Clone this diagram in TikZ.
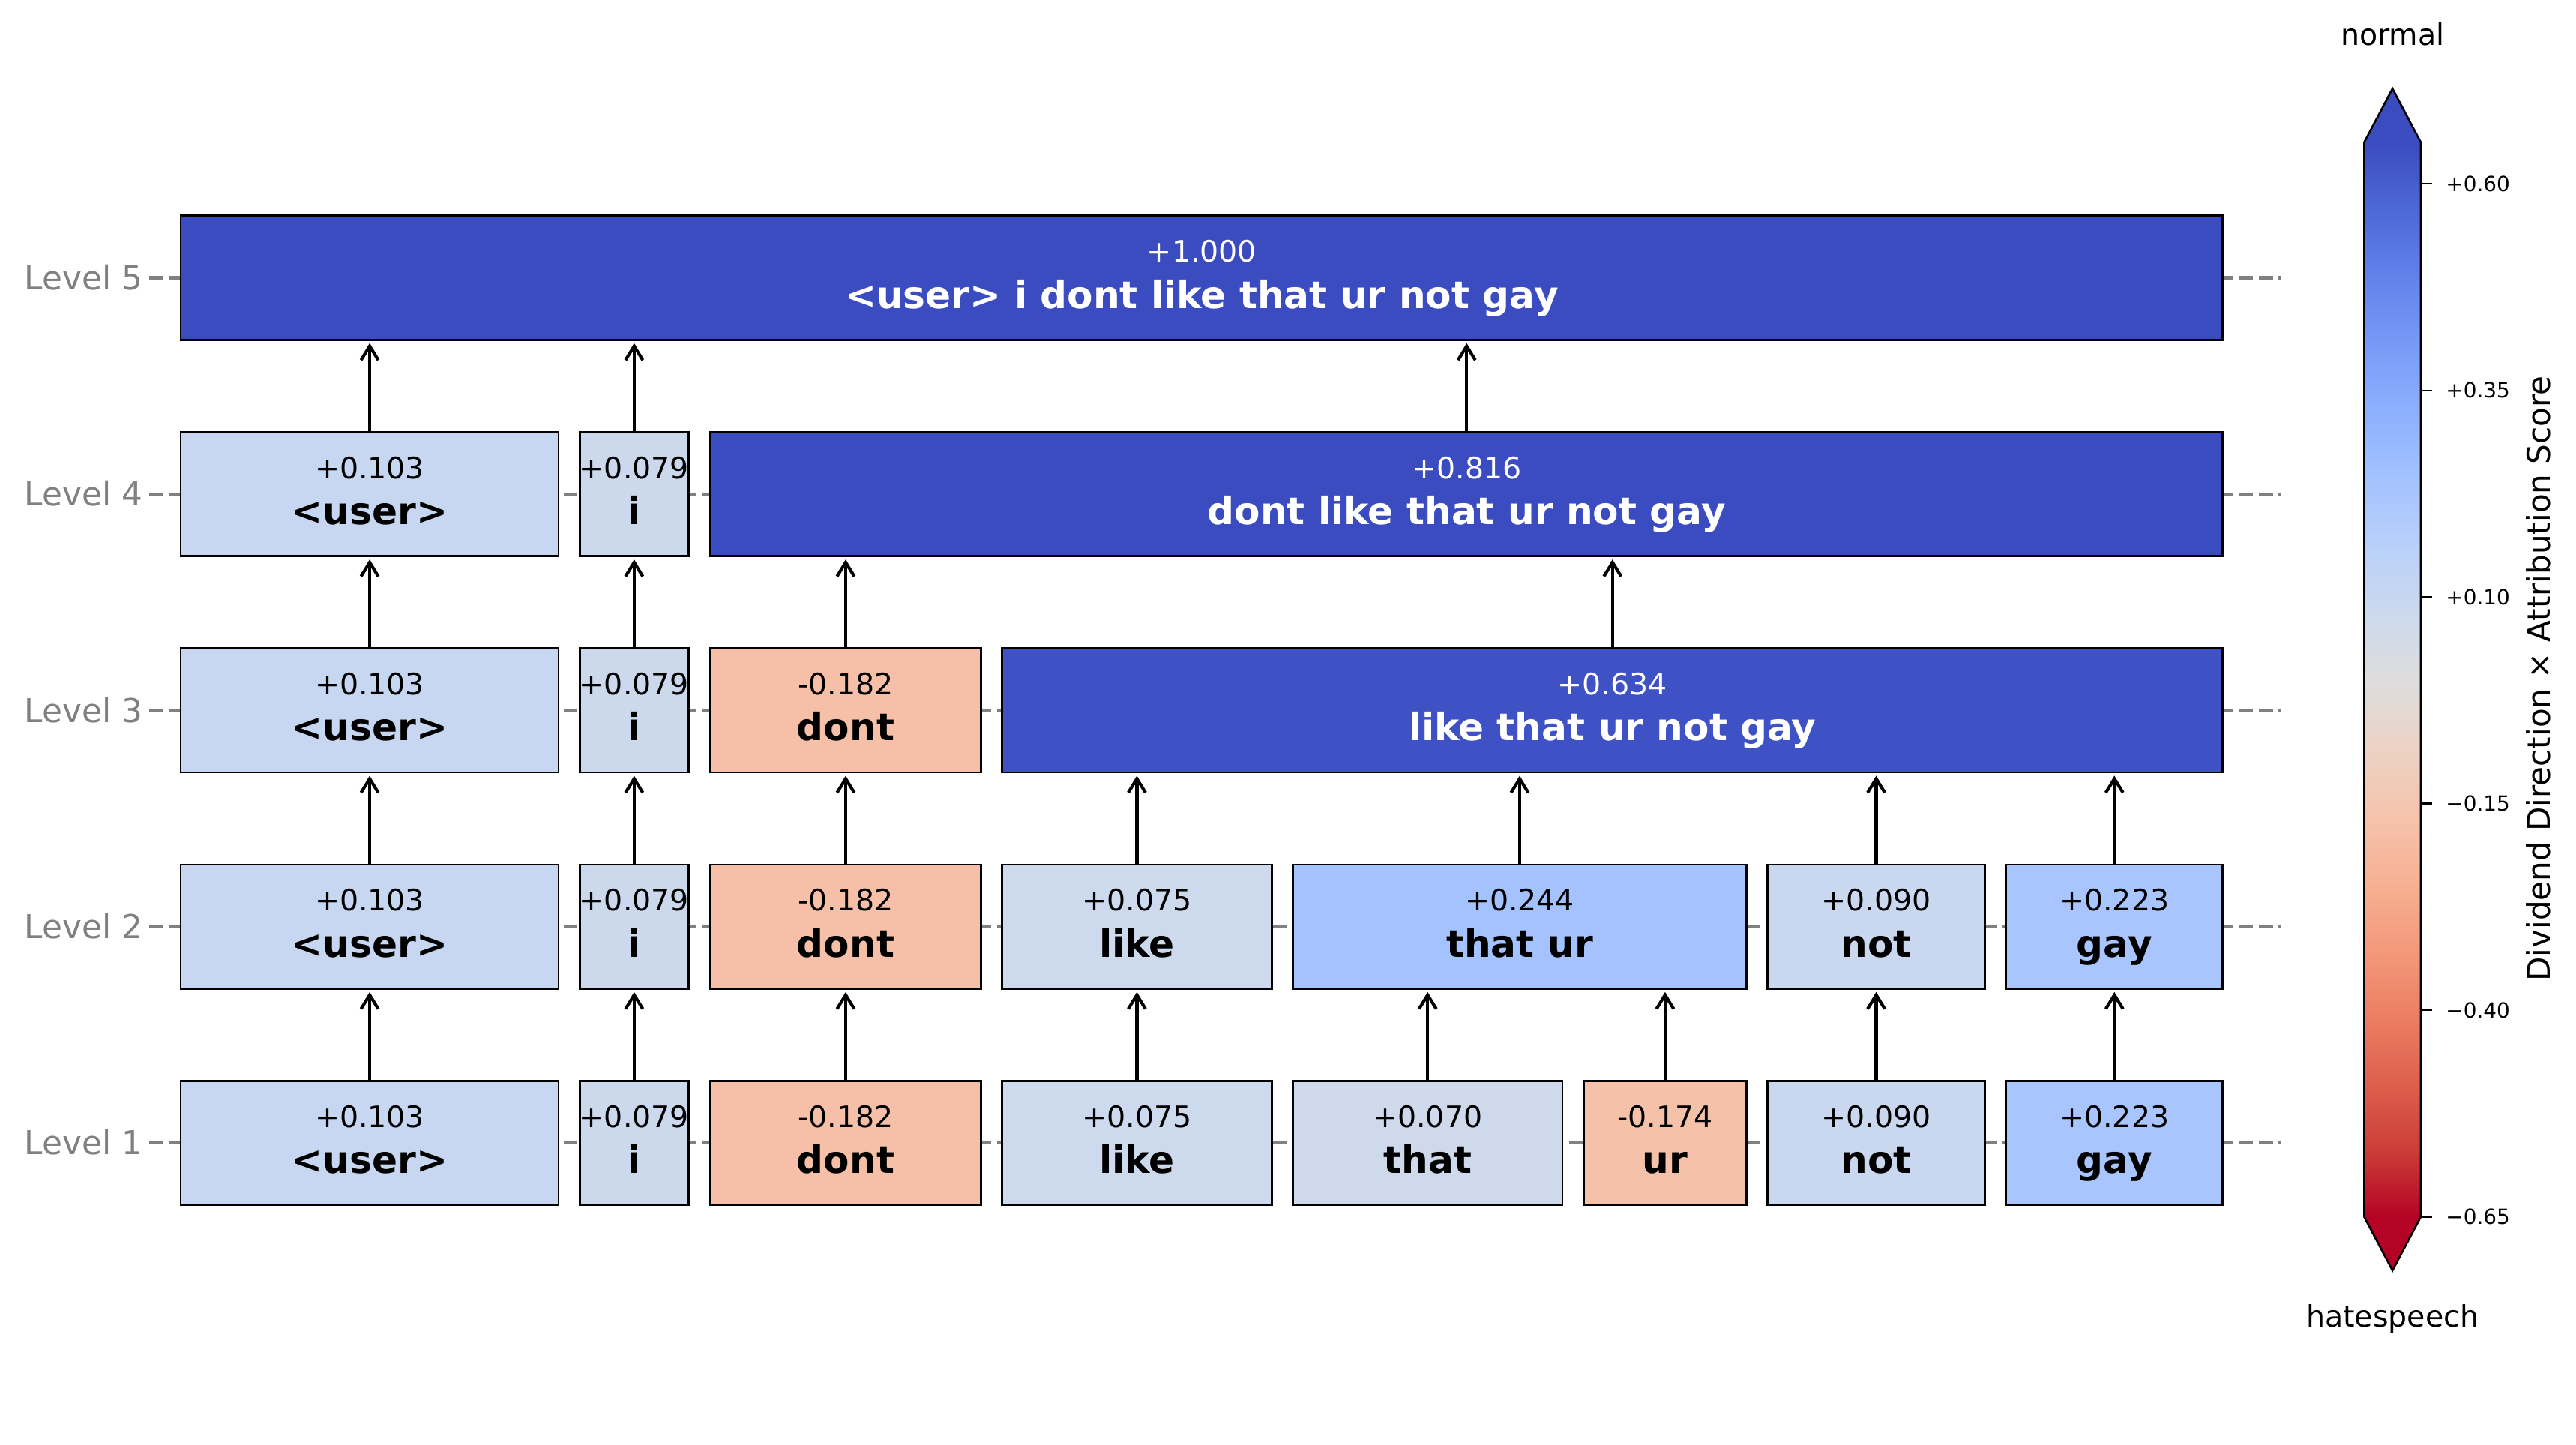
\documentclass[tikz,border=0pt]{standalone}
\usepackage{fontspec}
\setmainfont{DejaVu Sans}
\usetikzlibrary{arrows.meta}
% box fills (coolwarm_r, vmin -0.65, vmax 0.65)
\definecolor{fuser}{RGB}{199,215,241}
\definecolor{fi}{RGB}{204,217,237}
\definecolor{flike}{RGB}{205,217,237}
\definecolor{fthat}{RGB}{206,217,236}
\definecolor{fnot}{RGB}{202,216,239}
\definecolor{fgay}{RGB}{168,197,253}
\definecolor{fthatur}{RGB}{163,194,254}
\definecolor{fdont}{RGB}{245,192,167}
\definecolor{fur}{RGB}{245,193,169}
\definecolor{fbigA}{RGB}{62,81,197}
\definecolor{fbigB}{RGB}{59,76,192}
\definecolor{gridgray}{RGB}{128,128,128}
% colormap stops, bottom (red) to top (blue)
\definecolor{cA}{RGB}{180,4,38}
\definecolor{cB}{RGB}{203,62,56}
\definecolor{cC}{RGB}{222,96,77}
\definecolor{cD}{RGB}{236,127,99}
\definecolor{cE}{RGB}{244,154,123}
\definecolor{cF}{RGB}{247,177,148}
\definecolor{cG}{RGB}{245,196,173}
\definecolor{cH}{RGB}{236,211,197}
\definecolor{cI}{RGB}{221,221,221}
\definecolor{cJ}{RGB}{204,217,238}
\definecolor{cK}{RGB}{184,208,249}
\definecolor{cL}{RGB}{163,194,255}
\definecolor{cM}{RGB}{141,176,254}
\definecolor{cN}{RGB}{119,154,247}
\definecolor{cO}{RGB}{98,130,234}
\definecolor{cP}{RGB}{77,104,215}
\definecolor{cQ}{RGB}{59,76,192}
\pgfdeclareverticalshading{cwbar}{100bp}{color(0bp)=(cA); color(25bp)=(cA);
 color(28.125bp)=(cB); color(31.25bp)=(cC); color(34.375bp)=(cD); color(37.5bp)=(cE);
 color(40.625bp)=(cF); color(43.75bp)=(cG); color(46.875bp)=(cH); color(50bp)=(cI);
 color(53.125bp)=(cJ); color(56.25bp)=(cK); color(59.375bp)=(cL); color(62.5bp)=(cM);
 color(65.625bp)=(cN); color(68.75bp)=(cO); color(71.875bp)=(cP); color(75bp)=(cQ);
 color(100bp)=(cQ)}
\newcommand\tokb[8]{%
  \node[tokbox, fill=#5, minimum width={(#3-#2)*1pt}] (#1) at ({(#2+#3)/2},#4) {};
  \node[valtxt, text=#6] (#1v) at ([yshift=9.5pt]#1.center) {#7};
  \node[wordtxt, text=#6] (#1w) at ([yshift=-18.5pt]#1.center) {#8};
}
\newcommand\uparr[2]{\draw[arr] (#1.north) -- (#1.north |- #2.south);}
\begin{document}
\begin{tikzpicture}[x=1pt,y=-1pt,
  tokbox/.style={rectangle, draw=black, line width=1.3pt, inner sep=0pt, outer sep=0pt, minimum height=75.5pt},
  valtxt/.style={font=\fontsize{18}{20}\selectfont, inner sep=0pt, anchor=base},
  wordtxt/.style={font=\fontsize{22.9}{26}\selectfont\bfseries, inner sep=0pt, anchor=base},
  arr/.style={-{Straight Barb[length=8.5pt,width=10.5pt]}, line width=1.9pt, shorten >=2pt},
  gridline/.style={draw=gridgray, line width=2pt, dash pattern=on 8.5pt off 3.5pt},
  lvl/.style={text=gridgray, font=\fontsize{20}{22}\selectfont, inner sep=0pt, anchor=base east},
  ticklab/.style={font=\fontsize{12.7}{15}\selectfont, inner sep=0pt, anchor=base west}]
\useasboundingbox (0,0) rectangle (1568,879);
\def\yA{695.5}\def\yB{563.9}\def\yC{432.3}\def\yD{300.7}\def\yE{169.1}
% grid lines and level labels
\foreach \yy/\nn in {\yA/1,\yB/2,\yC/3,\yD/4,\yE/5}{
  \draw[gridline] (91,\yy) -- (1388,\yy);
  \node[lvl] (lev\nn) at (87,\yy+7.2) {Level \nn};
}
% Level 1
\tokb{ua}{110}{340}{\yA}{fuser}{black}{+0.103}{<user>}
\tokb{ia}{353}{419}{\yA}{fi}{black}{+0.079}{i}
\tokb{da}{432.5}{597}{\yA}{fdont}{black}{-0.182}{dont}
\tokb{ka}{610}{774}{\yA}{flike}{black}{+0.075}{like}
\tokb{ta}{787}{951}{\yA}{fthat}{black}{+0.070}{that}
\tokb{ra}{964}{1063}{\yA}{fur}{black}{-0.174}{ur}
\tokb{na}{1076}{1208}{\yA}{fnot}{black}{+0.090}{not}
\tokb{ga}{1221}{1353}{\yA}{fgay}{black}{+0.223}{gay}
% Level 2
\tokb{ub}{110}{340}{\yB}{fuser}{black}{+0.103}{<user>}
\tokb{ib}{353}{419}{\yB}{fi}{black}{+0.079}{i}
\tokb{db}{432.5}{597}{\yB}{fdont}{black}{-0.182}{dont}
\tokb{kb}{610}{774}{\yB}{flike}{black}{+0.075}{like}
\tokb{tb}{787}{1063}{\yB}{fthatur}{black}{+0.244}{that ur}
\tokb{nb}{1076}{1208}{\yB}{fnot}{black}{+0.090}{not}
\tokb{gb}{1221}{1353}{\yB}{fgay}{black}{+0.223}{gay}
% Level 3
\tokb{uc}{110}{340}{\yC}{fuser}{black}{+0.103}{<user>}
\tokb{ic}{353}{419}{\yC}{fi}{black}{+0.079}{i}
\tokb{dc}{432.5}{597}{\yC}{fdont}{black}{-0.182}{dont}
\tokb{bc}{610}{1353}{\yC}{fbigA}{white}{+0.634}{like that ur not gay}
% Level 4
\tokb{ud}{110}{340}{\yD}{fuser}{black}{+0.103}{<user>}
\tokb{id}{353}{419}{\yD}{fi}{black}{+0.079}{i}
\tokb{bd}{432.5}{1353}{\yD}{fbigB}{white}{+0.816}{dont like that ur not gay}
% Level 5
\tokb{te}{110}{1353}{\yE}{fbigB}{white}{+1.000}{<user> i dont like that ur not gay}
% arrows
\uparr{ua}{ub}\uparr{ia}{ib}\uparr{da}{db}\uparr{ka}{kb}
\uparr{ta}{tb}\uparr{ra}{tb}\uparr{na}{nb}\uparr{ga}{gb}
\uparr{ub}{uc}\uparr{ib}{ic}\uparr{db}{dc}\uparr{kb}{bc}
\uparr{tb}{bc}\uparr{nb}{bc}\uparr{gb}{bc}
\uparr{uc}{ud}\uparr{ic}{id}\uparr{dc}{bd}\uparr{bc}{bd}
\uparr{ud}{te}\uparr{id}{te}\uparr{bd}{te}
% colorbar
\shade[shading=cwbar] (1439,86.7) rectangle (1473.5,740.4);
\fill[cQ] (1439,86.7) -- (1456.25,54) -- (1473.5,86.7) -- cycle;
\fill[cA] (1439,740.4) -- (1456.25,773.1) -- (1473.5,740.4) -- cycle;
\draw[line width=1.2pt] (1439,86.7) -- (1456.25,54) -- (1473.5,86.7) -- (1473.5,740.4)
  -- (1456.25,773.1) -- (1439,740.4) -- cycle;
\foreach \yy/\lab in {111.8/+0.60,237.6/+0.35,363.3/+0.10,489.0/−0.15,614.7/−0.40,740.4/−0.65}{
  \draw[line width=1pt] (1473.5,\yy) -- (1480.5,\yy);
  \node[ticklab] at (1488.6,\yy+4.6) {\lab};
}
\node[font=\fontsize{18}{21}\selectfont, inner sep=0pt, anchor=base] (cbtop) at (1456.25,27.5) {normal};
\node[font=\fontsize{18}{21}\selectfont, inner sep=0pt, anchor=base] (cbbot) at (1456.25,807.5) {hatespeech};
\node[font=\fontsize{19.2}{22}\selectfont, inner sep=0pt, rotate=90] (cblab) at (1545,413) {Dividend Direction × Attribution Score};
\end{tikzpicture}
\end{document}
